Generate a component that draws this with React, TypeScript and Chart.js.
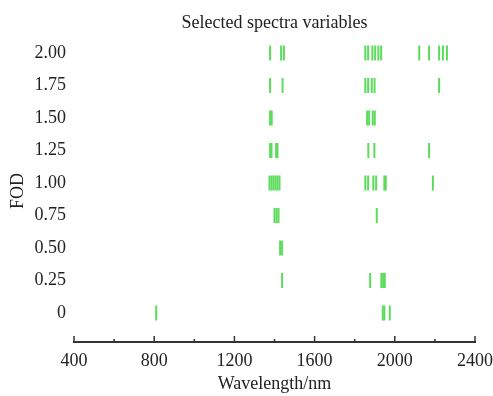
import React, { useEffect, useRef } from "react";
import { Chart, registerables } from "chart.js";

Chart.register(...registerables);
Chart.defaults.font.family = "'Liberation Serif', 'Times New Roman', serif";

// FOD levels (rows) and their tick labels
const fodLevels = [0, 0.25, 0.5, 0.75, 1, 1.25, 1.5, 1.75, 2];
const fodLabels = ["0", "0.25", "0.50", "0.75", "1.00", "1.25", "1.50", "1.75", "2.00"];
const wavelengthTicks = [400, 800, 1200, 1600, 2000, 2400];

// Selected wavelengths (nm) for each FOD level
const selFod000 = [810, 1940, 1948, 1975];
const selFod025 = [1438, 1877, 1933, 1942, 1950];
const selFod050 = [1428, 1438];
const selFod075 = [1400, 1410, 1420, 1910];
const selFod100 = [1375, 1385, 1395, 1405, 1415, 1425, 1853, 1867, 1893, 1907, 1948, 1955, 2190];
const selFod125 = [1378, 1385, 1408, 1415, 1868, 1898, 2171];
const selFod150 = [1378, 1386, 1862, 1872, 1890, 1900];
const selFod175 = [1378, 1440, 1853, 1867, 1885, 1899, 2221];
const selFod200 = [1378, 1433, 1447, 1853, 1867, 1888, 1902, 1918, 1932, 2122, 2171, 2221, 2240, 2260];

const selectedByLevel = [
  selFod000, selFod025, selFod050, selFod075, selFod100,
  selFod125, selFod150, selFod175, selFod200,
];

const markColor = "#5cdc5c";
const textColor = "#222";

const innerTicks = {
  id: "innerTicks",
  afterDraw(chart: any) {
    const s = chart.scales.x;
    const ctx = chart.ctx;
    const y0 = s.top;
    ctx.save();
    ctx.strokeStyle = "#333";
    ctx.lineWidth = 1.5;
    const vals = s.ticks.map((t: any) => t.value);
    vals.forEach((v: number, i: number) => {
      const px = s.getPixelForValue(v);
      ctx.beginPath();
      ctx.moveTo(px, y0);
      ctx.lineTo(px, y0 - 6);
      ctx.stroke();
      if (i < vals.length - 1) {
        const pm = s.getPixelForValue((v + vals[i + 1]) / 2);
        ctx.beginPath();
        ctx.moveTo(pm, y0);
        ctx.lineTo(pm, y0 - 3);
        ctx.stroke();
      }
    });
    ctx.restore();
  },
};

export default function App() {
  const ref = useRef<HTMLCanvasElement | null>(null);

  useEffect(() => {
    if (!ref.current) return;
    const datasets = fodLevels.map((lvl, i) => ({
      label: fodLabels[i],
      data: selectedByLevel[i].map((w) => ({ x: w, y: lvl })),
      xAxisID: "x",
      yAxisID: "y",
      showLine: false,
      pointStyle: "line",
      pointRotation: 90,
      pointRadius: 7.5,
      pointHoverRadius: 7.5,
      pointBorderWidth: 2,
      pointBorderColor: markColor,
      pointBackgroundColor: markColor,
      borderColor: markColor,
      backgroundColor: markColor,
    }));

    const chart = new Chart(ref.current, {
      type: "scatter",
      data: { datasets } as any,
      plugins: [innerTicks],
      options: {
        animation: false,
        responsive: true,
        maintainAspectRatio: false,
        layout: { padding: { left: 0, top: 0, bottom: 0, right: 18 } },
        plugins: {
          legend: { display: false },
          tooltip: { enabled: false },
          title: { display: false },
        },
        scales: {
          x: {
            type: "linear",
            position: "bottom",
            min: 400,
            max: 2400,
            afterBuildTicks: (s: any) => {
              s.ticks = wavelengthTicks.map((v) => ({ value: v }));
            },
            ticks: {
              padding: 8,
              font: { size: 18 },
              color: textColor,
              maxRotation: 0,
              autoSkip: false,
              callback: (v: any) => String(v),
            },
            grid: { display: false, drawTicks: false },
            border: { display: true, color: "#333", width: 2 },
            title: {
              display: true,
              text: "Wavelength/nm",
              font: { size: 18 },
              color: textColor,
              padding: { top: 0, bottom: 1 },
            },
            afterFit: (s: any) => {
              s.height = 54;
              s.paddingRight = 0;
              s.paddingLeft = 0;
            },
          },
          xTop: {
            type: "linear",
            position: "top",
            min: 400,
            max: 2400,
            ticks: { display: false },
            grid: { display: false, drawTicks: false },
            border: { display: false },
            title: {
              display: true,
              text: "Selected spectra variables",
              font: { size: 18 },
              color: textColor,
              padding: { top: 12, bottom: 0 },
            },
            afterFit: (s: any) => {
              s.height = 40;
            },
          },
          y: {
            type: "linear",
            min: -0.223,
            max: 2.1,
            afterBuildTicks: (s: any) => {
              s.ticks = fodLevels.map((v) => ({ value: v }));
            },
            ticks: {
              padding: 8,
              font: { size: 18 },
              color: textColor,
              autoSkip: false,
              callback: (_v: any, idx: number) => fodLabels[idx],
            },
            grid: { display: false, drawTicks: false },
            border: { display: false },
            title: {
              display: true,
              text: "FOD",
              font: { size: 18 },
              color: textColor,
              padding: { top: 7, bottom: 0 },
            },
            afterFit: (s: any) => {
              s.width = 74;
            },
          },
        },
      } as any,
    });
    return () => chart.destroy();
  }, []);

  return (
    <div style={{ position: "fixed", left: 0, top: 0, width: 493, height: 396, background: "#fff" }}>
      <canvas ref={ref} />
    </div>
  );
}
